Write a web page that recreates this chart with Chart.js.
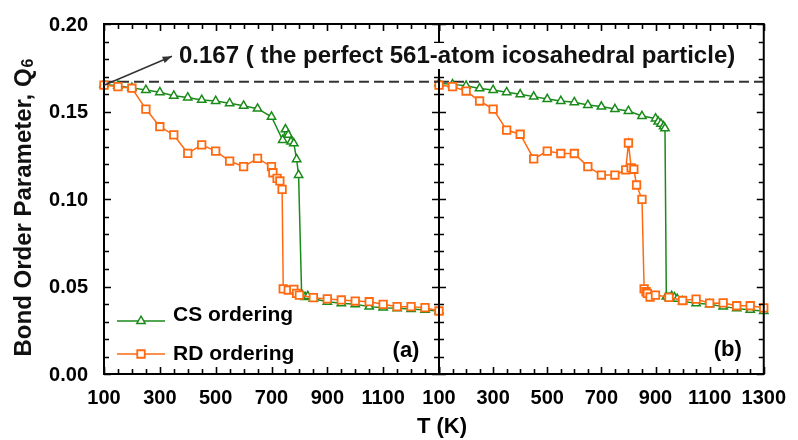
<!DOCTYPE html>
<html>
<head>
<meta charset="utf-8">
<script src="https://cdn.jsdelivr.net/npm/chart.js@4.4.0/dist/chart.umd.min.js"></script>
<style>
  html, body { margin: 0; padding: 0; background: #fff; }
  #wrap { position: relative; width: 798px; height: 440px; }
  #wrap canvas { position: absolute; left: 0; top: 0; }
</style>
</head>
<body>
<div id="wrap">
  <canvas id="panelB" width="798" height="440"></canvas>
  <canvas id="panelA" width="798" height="440"></canvas>
</div>
<script>
// panel (a): temperature (K) and Q6
const csTempA = [100, 150, 200, 250, 300, 350, 400, 450, 500, 550, 600, 650, 700, 740, 750, 760, 770, 780, 790, 797, 808, 820, 830, 850, 900, 950, 1000, 1050, 1100, 1150, 1200, 1250, 1300];
const csQ6A   = [0.1655, 0.1647, 0.1635, 0.1623, 0.1610, 0.1590, 0.1580, 0.1566, 0.1560, 0.1547, 0.1533, 0.1516, 0.1470, 0.1337, 0.1398, 0.1366, 0.1328, 0.1318, 0.1227, 0.1137, 0.0455, 0.0440, 0.0445, 0.0430, 0.0413, 0.0404, 0.0398, 0.0385, 0.0379, 0.0375, 0.0371, 0.0366, 0.0360];
const rdTempA = [100, 150, 200, 250, 300, 350, 400, 450, 500, 550, 600, 650, 700, 705, 720, 730, 738, 742, 760, 780, 790, 800, 850, 900, 950, 1000, 1050, 1100, 1150, 1200, 1250, 1300];
const rdQ6A   = [0.1651, 0.1642, 0.1633, 0.1514, 0.1413, 0.1366, 0.1261, 0.1309, 0.1274, 0.1217, 0.1185, 0.1232, 0.1185, 0.1150, 0.1118, 0.1103, 0.1055, 0.0486, 0.0480, 0.0484, 0.0461, 0.0451, 0.0436, 0.0429, 0.0423, 0.0417, 0.0413, 0.0398, 0.0385, 0.0385, 0.0379, 0.0360];

// panel (b)
const csTempB = [100, 150, 200, 250, 300, 350, 400, 450, 500, 550, 600, 650, 700, 750, 800, 850, 900, 910, 920, 930, 935, 940, 950, 960, 970, 980, 1000, 1050, 1100, 1150, 1200, 1250, 1300];
const csQ6B   = [0.1661, 0.1655, 0.1647, 0.1632, 0.1623, 0.1610, 0.1598, 0.1585, 0.1571, 0.1560, 0.1553, 0.1537, 0.1528, 0.1514, 0.1503, 0.1474, 0.1460, 0.1442, 0.1430, 0.1415, 0.1404, 0.0442, 0.0436, 0.0445, 0.0438, 0.0429, 0.0415, 0.0404, 0.0398, 0.0385, 0.0375, 0.0366, 0.0360];
const rdTempB = [100, 150, 200, 250, 300, 350, 400, 450, 500, 550, 600, 650, 700, 750, 790, 800, 810, 820, 830, 850, 858, 865, 870, 880, 900, 950, 1000, 1050, 1100, 1150, 1200, 1250, 1300];
const rdQ6B   = [0.1651, 0.1642, 0.1617, 0.1560, 0.1514, 0.1394, 0.1370, 0.1229, 0.1274, 0.1260, 0.1260, 0.1185, 0.1137, 0.1137, 0.1166, 0.1320, 0.1178, 0.1170, 0.1080, 0.0998, 0.0486, 0.0470, 0.0461, 0.0440, 0.0451, 0.0438, 0.0420, 0.0428, 0.0405, 0.0406, 0.0390, 0.0390, 0.0378];

// reference line: perfect 561-atom icosahedron
const perfectQ6 = 0.167;
const refTemps = [100, 1300];

const xTickValues = [100, 300, 500, 700, 900, 1100, 1300];
const yTickValues = [0, 0.05, 0.10, 0.15, 0.20];

const FONT = "'Liberation Sans', Arial, sans-serif";
const GREEN = '#1a8a1a';
const ORANGE = '#ff6a10';

Chart.defaults.font.family = FONT;
Chart.defaults.font.weight = 'bold';
Chart.defaults.color = '#000';

function pts(xs, ys) {
    return xs.map((x, i) => ({ x: x, y: ys[i] }));
}

function makeDatasets(csT, csQ, rdT, rdQ) {
    return [{
        label: 'RD ordering',
        data: pts(rdT, rdQ),
        borderColor: ORANGE,
        borderWidth: 1.5,
        pointStyle: 'rect',
        pointRadius: 5.3,
        pointBorderWidth: 1.8,
        pointBackgroundColor: '#fff',
        pointBorderColor: ORANGE,
        clip: false
    }, {
        label: 'CS ordering',
        data: pts(csT, csQ),
        borderColor: GREEN,
        borderWidth: 1.5,
        pointStyle: 'triangle',
        pointRadius: 4.8,
        pointBorderWidth: 1.5,
        pointBackgroundColor: '#fff',
        pointBorderColor: GREEN,
        clip: false
    }, {
        label: 'perfect',
        data: refTemps.map(t => ({ x: t, y: perfectQ6 })),
        borderColor: '#333',
        borderWidth: 2,
        borderDash: [10, 5],
        pointRadius: 0
    }];
}

// inward ticks on all four sides plus the frame
const frameTicks = {
    id: 'frameTicks',
    afterDatasetsDraw(chart) {
        const { ctx, chartArea: a, scales: { x, y } } = chart;
        ctx.save();
        ctx.strokeStyle = '#000';
        ctx.lineWidth = 1.6;
        ctx.beginPath();
        for (let t = 100; t <= 1300; t += 50) {
            const px = Math.round(x.getPixelForValue(t)) + 0.5;
            const len = (t - 100) % 200 === 0 ? 7 : 5;
            ctx.moveTo(px, a.top); ctx.lineTo(px, a.top + len);
            ctx.moveTo(px, a.bottom); ctx.lineTo(px, a.bottom - len);
        }
        for (let i = 0; i <= 20; i++) {
            const py = Math.round(y.getPixelForValue(i / 100)) + 0.5;
            const len = i % 5 === 0 ? 7 : 5;
            ctx.moveTo(a.left, py); ctx.lineTo(a.left + len, py);
            ctx.moveTo(a.right, py); ctx.lineTo(a.right - len, py);
        }
        ctx.stroke();
        ctx.lineWidth = 2;
        ctx.strokeRect(a.left, a.top, a.width, a.height);
        ctx.restore();
    }
};

function drawLegendRow(ctx, ds, x, yLine, yText) {
    ctx.save();
    ctx.strokeStyle = ds.borderColor;
    ctx.lineWidth = ds.borderWidth;
    ctx.beginPath();
    ctx.moveTo(x, yLine);
    ctx.lineTo(x + 48, yLine);
    ctx.stroke();
    ctx.fillStyle = ds.pointBackgroundColor;
    ctx.strokeStyle = ds.pointBorderColor;
    ctx.lineWidth = ds.pointBorderWidth;
    Chart.helpers.drawPoint(ctx, {
        pointStyle: ds.pointStyle,
        radius: ds.pointRadius,
        borderWidth: ds.pointBorderWidth,
        rotation: 0
    }, x + 24, yLine);
    ctx.fillStyle = '#000';
    ctx.font = 'bold 21px ' + FONT;
    ctx.textBaseline = 'middle';
    ctx.fillText(ds.label, x + 56, yText);
    ctx.restore();
}

const decorA = {
    id: 'decorA',
    afterDraw(chart) {
        const { ctx, chartArea: a, scales: { x, y } } = chart;

        // y tick labels
        ctx.save();
        ctx.fillStyle = '#000';
        ctx.font = 'bold 20px ' + FONT;
        ctx.textAlign = 'right';
        ctx.textBaseline = 'middle';
        yTickValues.forEach(v => ctx.fillText(v.toFixed(2), a.left - 16, y.getPixelForValue(v) + 1));
        ctx.restore();

        // arrow to the reference line and its note
        const x0 = x.getPixelForValue(100);
        const y0 = y.getPixelForValue(0.165);
        const x1 = x0 + 68, y1 = y0 - 29;
        ctx.save();
        ctx.strokeStyle = '#333';
        ctx.fillStyle = '#333';
        ctx.lineWidth = 1.5;
        ctx.beginPath();
        ctx.moveTo(x0, y0);
        ctx.lineTo(x1, y1);
        ctx.stroke();
        const ang = Math.atan2(y1 - y0, x1 - x0);
        ctx.beginPath();
        ctx.moveTo(x1, y1);
        ctx.lineTo(x1 - 10 * Math.cos(ang - 0.35), y1 - 10 * Math.sin(ang - 0.35));
        ctx.lineTo(x1 - 10 * Math.cos(ang + 0.35), y1 - 10 * Math.sin(ang + 0.35));
        ctx.closePath();
        ctx.fill();

        const note = '0.167 ( the perfect 561-atom icosahedral particle)';
        ctx.font = 'bold 24px ' + FONT;
        const nw = ctx.measureText(note).width;
        ctx.fillStyle = '#fff';
        ctx.fillRect(177, 43, nw + 4, 26);
        ctx.fillStyle = '#111';
        ctx.textBaseline = 'alphabetic';
        ctx.fillText(note, 179, 63);

        // y title with subscript
        ctx.translate(24, 208);
        ctx.rotate(-Math.PI / 2);
        ctx.font = 'bold 24px ' + FONT;
        const main = 'Bond Order Parameter, Q';
        const w1 = ctx.measureText(main).width;
        ctx.font = 'bold 16px ' + FONT;
        const w2 = ctx.measureText('6').width;
        const sx = -(w1 + w2) / 2;
        ctx.textBaseline = 'middle';
        ctx.font = 'bold 24px ' + FONT;
        ctx.fillText(main, sx, 0);
        ctx.font = 'bold 16px ' + FONT;
        ctx.fillText('6', sx + w1 + 1, 5);
        ctx.restore();

        // x title and panel label
        ctx.save();
        ctx.fillStyle = '#000';
        ctx.font = 'bold 22px ' + FONT;
        ctx.textAlign = 'center';
        ctx.textBaseline = 'middle';
        ctx.fillText('T (K)', 442, 427);
        ctx.fillText('(a)', a.right - 33, a.bottom - 23);
        ctx.restore();

        const dsets = chart.data.datasets;
        drawLegendRow(ctx, dsets[1], a.left + 13, 321, 315);
        drawLegendRow(ctx, dsets[0], a.left + 13, 354, 354);
    }
};

const decorB = {
    id: 'decorB',
    afterDraw(chart) {
        const { ctx, chartArea: a } = chart;
        ctx.save();
        ctx.fillStyle = '#000';
        ctx.font = 'bold 22px ' + FONT;
        ctx.textAlign = 'center';
        ctx.textBaseline = 'middle';
        ctx.fillText('(b)', a.right - 36, a.bottom - 24);
        ctx.restore();
    }
};

function xScale(hideLast) {
    return {
        type: 'linear',
        min: 100,
        max: 1300,
        afterBuildTicks: s => { s.ticks = xTickValues.map(v => ({ value: v })); },
        afterFit: s => { s.height = 66; },
        grid: { display: false, drawTicks: false },
        border: { display: false },
        ticks: {
            autoSkip: false,
            maxRotation: 0,
            padding: 12,
            font: { size: 20, weight: 'bold' },
            callback: v => (hideLast && v === 1300) ? '' : String(v)
        }
    };
}

function makeOptions(padLeft, padRight, hideLast) {
    return {
        responsive: false,
        animation: false,
        devicePixelRatio: 1,
        layout: { padding: { left: padLeft, right: padRight, top: 24, bottom: 0 } },
        plugins: { legend: { display: false }, tooltip: { enabled: false } },
        elements: { line: { tension: 0 } },
        scales: {
            x: xScale(hideLast),
            y: { display: false, min: 0, max: 0.2 }
        }
    };
}

new Chart(document.getElementById('panelB'), {
    type: 'line',
    data: { datasets: makeDatasets(csTempB, csQ6B, rdTempB, rdQ6B) },
    options: makeOptions(439, 27, false),
    plugins: [frameTicks, decorB]
});

new Chart(document.getElementById('panelA'), {
    type: 'line',
    data: { datasets: makeDatasets(csTempA, csQ6A, rdTempA, rdQ6A) },
    options: makeOptions(104, 359, true),
    plugins: [frameTicks, decorA]
});
</script>
</body>
</html>
